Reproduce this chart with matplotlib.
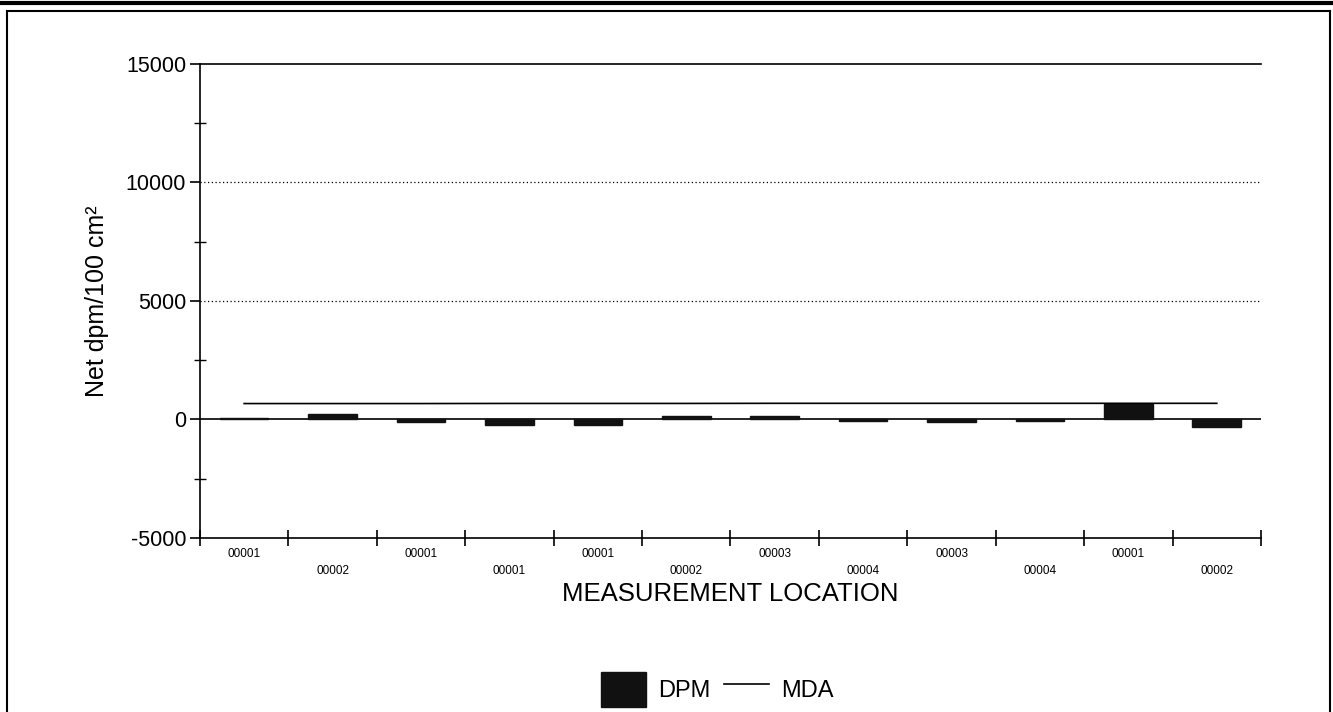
import matplotlib
matplotlib.use("Agg")
import matplotlib.pyplot as plt
from matplotlib.lines import Line2D
from matplotlib.patches import Rectangle
import numpy as np

plt.rcParams['font.family'] = ['Liberation Sans', 'DejaVu Sans']

locations = ["00001", "00002", "00001", "00001", "00001", "00002",
             "00003", "00004", "00003", "00004", "00001", "00002"]
dpm = [80, 230, -100, -240, -230, 150, 150, -50, -100, -80, 650, -320]
mda = [670, 670, 670, 675, 675, 675, 680, 680, 680, 680, 680, 680]
y_ticks = [-5000, 0, 5000, 10000, 15000]

fig = plt.figure(figsize=(13.33, 7.12), dpi=100)
ax = fig.add_axes([0.150, 0.2444, 0.796, 0.666])

x = np.arange(len(locations))
ax.bar(x, dpm, width=0.55, color='#111111', edgecolor='#111111', zorder=3)
ax.plot(x, mda, color='black', lw=1.2, zorder=4)

ax.set_xlim(-0.5, len(locations) - 0.5)
ax.set_ylim(-5000, 15000)
ax.axhline(0, color='black', lw=1.2, zorder=2)
for v in [5000, 10000]:
    ax.axhline(v, color='black', lw=0.9, ls=(0, (1, 2)), zorder=1)

ax.set_yticks(y_ticks)
ax.set_yticklabels([str(v) for v in y_ticks], fontsize=15.5)
ax.set_yticks(np.arange(-2500, 15000, 5000), minor=True)
ax.tick_params(axis='y', which='major', direction='out', length=7, width=1.2, pad=3)
ax.tick_params(axis='y', which='minor', direction='inout', length=8, width=1.0)

ax.set_xticks(np.arange(-0.5, len(locations) - 0.4, 1.0))
ax.set_xticklabels([])
ax.tick_params(axis='x', which='major', direction='inout', length=12, width=1.2)
for i, lab in enumerate(locations):
    yoff = -0.022 if i % 2 == 0 else -0.058
    ax.text(i, yoff, lab, transform=ax.get_xaxis_transform(), ha='center',
            va='top', fontsize=8.5)

ax.spines['right'].set_visible(False)
for s in ['left', 'bottom', 'top']:
    ax.spines[s].set_linewidth(1.2)

ax.set_ylabel("Net dpm/100 cm²", fontsize=18, labelpad=12)
ax.set_xlabel("MEASUREMENT LOCATION", fontsize=18.5, labelpad=22)

handles = [Rectangle((0, 0), 1, 1, facecolor='#111111', edgecolor='#111111'),
           Line2D([0], [0], color='black', lw=1.2)]
fig.legend(handles, ["DPM", "MDA"], loc='center', bbox_to_anchor=(0.538, 0.032),
           ncol=2, frameon=False, fontsize=17, handlelength=1.9, handleheight=1.9,
           columnspacing=0.6, handletextpad=0.5)

# page frame
fig.add_artist(Line2D([0, 1], [0.996, 0.996], transform=fig.transFigure, color='black', lw=3))
fig.add_artist(Line2D([0.005, 0.998], [0.984, 0.984], transform=fig.transFigure, color='black', lw=1.5))
fig.add_artist(Line2D([0.005, 0.005], [0.0, 0.984], transform=fig.transFigure, color='black', lw=1.5))
fig.add_artist(Line2D([0.998, 0.998], [0.0, 0.984], transform=fig.transFigure, color='black', lw=1.5))

fig.savefig("out.png", dpi=100)
